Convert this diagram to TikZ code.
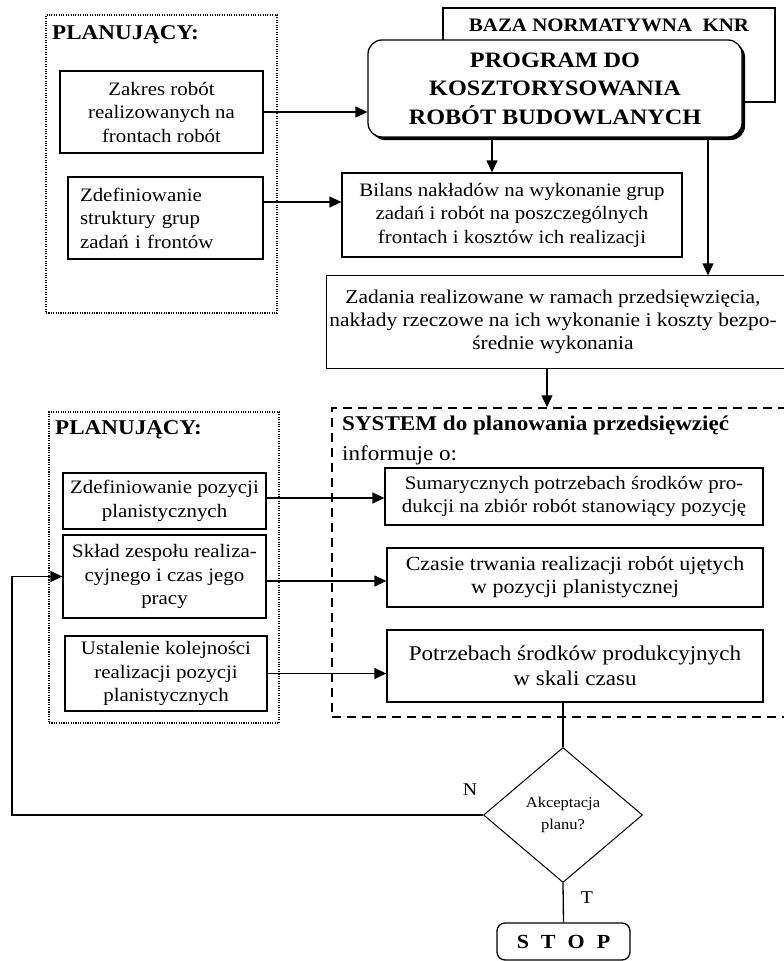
\documentclass[tikz,border=0pt]{standalone}
\usepackage{fontspec}
\setmainfont{Liberation Serif}[FakeStretch=1.1]
\usetikzlibrary{positioning,calc,shapes.geometric,arrows.meta,shadows}

\begin{document}
\begin{tikzpicture}[x=1pt,y=-1pt,>={Triangle[length=12pt,width=11pt]},line join=miter,
    box/.style={draw,line width=1.3pt,inner sep=2pt,align=center,font=\fontsize{19}{23.5}\selectfont},
    plan/.style={draw,line width=1.3pt,dash pattern=on 1.1pt off 1.3pt},
    arr/.style={->,line width=1.3pt},
    lin/.style={line width=1.3pt},
    ttl/.style={anchor=west,inner sep=0pt,font=\fontsize{21}{24}\selectfont\bfseries}]
  \useasboundingbox (0,0) rectangle (784,961);
  \clip (0,0) rectangle (784,961);

  % planner, upper group
  \node[plan,minimum width=231pt,minimum height=298pt] (plan1) at (161.5,164) {};
  \node[ttl] (plan1t) at (52,35) {PLANUJĄCY:};
  \node[box,minimum width=203pt,minimum height=82pt] (zakres) at (161.5,112)
    {Zakres robót\\realizowanych na\\frontach robót};
  \node[box,minimum width=195pt,minimum height=82pt,inner xsep=12pt,text width=171pt,align=left] (zdef) at (165.5,218)
    {Zdefiniowanie\\struktury grup\\zadań i frontów};

  % cost estimating program
  \node[draw,line width=1.3pt,minimum width=332pt,minimum height=94pt] (baza) at (609,55) {};
  \node[inner sep=0pt,font=\fontsize{19}{22}\selectfont\bfseries] (bazat) at (609,25) {BAZA NORMATYWNA\ \ KNR};
  \node[draw,fill=white,line width=1.3pt,rounded corners=14pt,minimum width=374pt,minimum height=97pt,
    align=center,font=\fontsize{22}{28.5}\selectfont\bfseries,
    drop shadow={shadow xshift=3pt,shadow yshift=-3pt,fill=black,opacity=1}] (prog) at (555,88.5)
    {PROGRAM DO\\KOSZTORYSOWANIA\\ROBÓT BUDOWLANYCH};
  \node[box,minimum width=340pt,minimum height=84pt] (bil) at (512,215)
    {Bilans nakładów na wykonanie grup\\zadań i robót na poszczególnych\\frontach i kosztów ich realizacji};
  % open to the right, runs past the page edge
  \node[box,draw=none,minimum width=448pt,minimum height=92pt,font=\fontsize{19.5}{23}\selectfont] (zad) at (553,322)
    {Zadania realizowane w ramach przedsięwzięcia,\\nakłady rzeczowe na ich wykonanie i koszty bezpo-\\średnie wykonania};
  \draw[lin] ([xshift=480pt]zad.north west) -- (zad.north west) -- (zad.south west) -- ([xshift=480pt]zad.south west);

  % planning system
  \node[draw,line width=1.5pt,dash pattern=on 9pt off 6pt,minimum width=463pt,minimum height=309pt] (sys) at (563.5,562.5) {};
  \node[anchor=west,inner sep=0pt,font=\fontsize{21}{24}\selectfont\bfseries] (syst) at (342,425) {SYSTEM do planowania przedsięwzięć};
  \node[anchor=west,inner sep=0pt,font=\fontsize{21}{24}\selectfont] (sysi) at (342,455) {informuje o:};
  \node[box,minimum width=378pt,minimum height=57pt] (sum) at (574,496.5)
    {Sumarycznych potrzebach środków pro-\\dukcji na zbiór robót stanowiący pozycję};
  \node[box,minimum width=376pt,minimum height=59pt,font=\fontsize{20}{23}\selectfont] (czas) at (575,577.5)
    {Czasie trwania realizacji robót ujętych\\w pozycji planistycznej};
  \node[box,minimum width=376pt,minimum height=72pt,font=\fontsize{21}{25}\selectfont] (potrz) at (575,666)
    {Potrzebach środków produkcyjnych\\w skali czasu};

  % planner, lower group
  \node[plan,minimum width=230pt,minimum height=311pt] (plan2) at (164,567.5) {};
  \node[ttl] (plan2t) at (55,430) {PLANUJĄCY:};
  \node[box,minimum width=203pt,minimum height=56pt] (pozy) at (164.5,501)
    {Zdefiniowanie pozycji\\planistycznych};
  \node[box,minimum width=203pt,minimum height=83pt] (sklad) at (164.5,576.5)
    {Skład zespołu realiza-\\cyjnego i czas jego\\pracy};
  \node[box,minimum width=202pt,minimum height=75pt] (ustal) at (166,673.5)
    {Ustalenie kolejności\\realizacji pozycji\\planistycznych};

  % decision and stop
  \node[draw,diamond,line width=1pt,minimum width=159pt,minimum height=135pt,inner sep=0pt,
    align=center,font=\fontsize{15}{22}\selectfont] (dec) at (563,815) {Akceptacja\\planu?};
  \node[draw,line width=1.3pt,rounded corners=8pt,minimum width=133pt,minimum height=37pt,
    font=\fontsize{20}{24}\selectfont\bfseries] (stop) at (563.5,941.5) {S\hspace{12pt}T\hspace{12pt}O\hspace{12pt}P};
  \node[font=\fontsize{18}{20}\selectfont] (lblN) at (470,790) {N};
  \node[font=\fontsize{18}{20}\selectfont] (lblT) at (587,898) {T};

  % connectors
  \coordinate (zdefout) at ([yshift=16pt]zdef.east);
  \coordinate (progbil) at ([xshift=-20pt]bil.north);
  \coordinate (progzad) at ([xshift=153pt]prog.south);
  \coordinate (zadsys) at ([xshift=-6pt]zad.south);
  \coordinate (pozyout) at ([yshift=3pt]pozy.east);
  \coordinate (skladout) at ([yshift=-4.5pt]sklad.east);
  \coordinate (fbx) at (12,0);

  \draw[arr] (zakres.east) -- (zakres.east -| prog.west);
  \draw[arr] (zdefout) -- (zdefout -| bil.west);
  \draw[arr] (progbil |- prog.south) -- (progbil);
  \draw[arr] (progzad) -- (progzad |- zad.north);
  \draw[arr] (zadsys) -- (zadsys |- sys.north);
  \draw[arr] (pozyout) -- (pozyout -| sum.west);
  \draw[arr] (skladout) -- (skladout -| czas.west);
  \draw[arr] (ustal.east) -- (ustal.east -| potrz.west);
  \draw[lin] (dec.north |- potrz.south) -- (dec.north);
  \draw[arr] (dec.west) -- (dec.west -| fbx) |- (sklad.west);
  \draw[lin] (dec.south) -- (stop.north);
\end{tikzpicture}
\end{document}
